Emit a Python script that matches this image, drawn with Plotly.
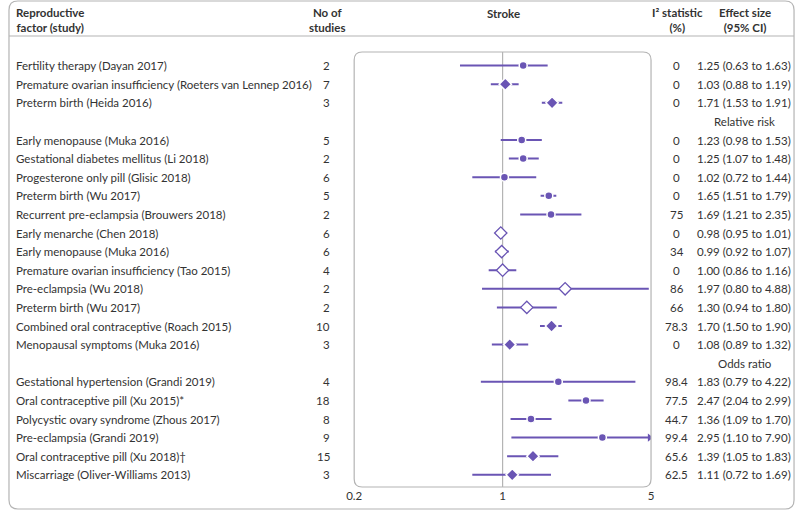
import plotly.graph_objects as go

W, H = 800, 512

# rows: None entries are the group label rows
labels = [None,
          "Fertility therapy (Dayan 2017)",
          "Premature ovarian insufficiency (Roeters van Lennep 2016)",
          "Preterm birth (Heida 2016)",
          None,
          "Early menopause (Muka 2016)",
          "Gestational diabetes mellitus (Li 2018)",
          "Progesterone only pill (Glisic 2018)",
          "Preterm birth (Wu 2017)",
          "Recurrent pre-eclampsia (Brouwers 2018)",
          "Early menarche (Chen 2018)",
          "Early menopause (Muka 2016)",
          "Premature ovarian insufficiency (Tao 2015)",
          "Pre-eclampsia (Wu 2018)",
          "Preterm birth (Wu 2017)",
          "Combined oral contraceptive (Roach 2015)",
          "Menopausal symptoms (Muka 2016)",
          None,
          "Gestational hypertension (Grandi 2019)",
          "Oral contraceptive pill (Xu 2015)*",
          "Polycystic ovary syndrome (Zhous 2017)",
          "Pre-eclampsia (Grandi 2019)",
          "Oral contraceptive pill (Xu 2018)†",
          "Miscarriage (Oliver-Williams 2013)"]
group_names = ["Hazard ratio", "Relative risk", "Odds ratio"]
n_studies = [None, 2, 7, 3, None, 5, 2, 6, 5, 2, 6, 6, 4, 2, 2, 10, 3, None, 4, 18, 8, 9, 15, 3]
i2 = [None, "0", "0", "0", None, "0", "0", "0", "0", "75", "0", "34", "0", "86", "66", "78.3", "0",
      None, "98.4", "77.5", "44.7", "99.4", "65.6", "62.5"]
est = [None, 1.25, 1.03, 1.71, None, 1.23, 1.25, 1.02, 1.65, 1.69, 0.98, 0.99, 1.00, 1.97, 1.30, 1.70, 1.08,
       None, 1.83, 2.47, 1.36, 2.95, 1.39, 1.11]
lo = [None, 0.63, 0.88, 1.53, None, 0.98, 1.07, 0.72, 1.51, 1.21, 0.95, 0.92, 0.86, 0.80, 0.94, 1.50, 0.89,
      None, 0.79, 2.04, 1.09, 1.10, 1.05, 0.72]
hi = [None, 1.63, 1.19, 1.91, None, 1.53, 1.48, 1.44, 1.79, 2.35, 1.01, 1.07, 1.16, 4.88, 1.80, 1.90, 1.32,
      None, 4.22, 2.99, 1.70, 7.90, 1.83, 1.69]
# f = filled circle, d = filled diamond, o = open diamond
kind = [None, "f", "d", "d", None, "f", "f", "f", "f", "f", "o", "o", "o", "o", "o", "d", "d",
        None, "f", "f", "f", "f", "d", "d"]

PURPLE = "#6a55b4"
TXT = "#333333"
GREY = "#b4b4b4"
FONT = "Lato"
FS = 11.5
XMAX = 5


def px(x):
    return x / W


def py(y):
    return 1 - y / H


ROW0, PITCH = 47, 18.6
top_px, bot_px = 52, 487
y_top = (top_px - ROW0) / PITCH
y_bot = (bot_px - ROW0) / PITCH

fig = go.Figure()

# confidence interval lines
lx, ly = [], []
for i, (a, b) in enumerate(zip(lo, hi)):
    if a is None:
        continue
    lx += [a, min(b, XMAX), None]
    ly += [i, i, None]
fig.add_trace(go.Scatter(x=lx, y=ly, mode="lines", line=dict(color=PURPLE, width=2),
                         hoverinfo="skip", showlegend=False))

# arrows for intervals past the axis
ax = [XMAX * 0.985 for b in hi if b is not None and b > XMAX]
ay = [i for i, b in enumerate(hi) if b is not None and b > XMAX]
fig.add_trace(go.Scatter(x=ax, y=ay, mode="markers",
                         marker=dict(symbol="triangle-right", size=7, color=PURPLE),
                         hoverinfo="skip", showlegend=False))

styles = {
    "f": dict(symbol="circle", size=8, color=PURPLE, line=dict(color="white", width=1.5)),
    "d": dict(symbol="diamond", size=9.5, color=PURPLE, line=dict(color="white", width=1.5)),
    "o": dict(symbol="diamond", size=9.5, color="white", line=dict(color=PURPLE, width=1.3)),
}
for k, st in styles.items():
    idx = [i for i, kk in enumerate(kind) if kk == k]
    fig.add_trace(go.Scatter(x=[est[i] for i in idx], y=idx, mode="markers", marker=st,
                             text=[labels[i] for i in idx], hoverinfo="text+x", showlegend=False))

ann = []


def txt(x, y, s, anchor="left", bold=False, yref="paper"):
    ann.append(dict(x=x, y=y, xref="paper", yref=yref, text=f"<b>{s}</b>" if bold else s,
                    showarrow=False, xanchor=anchor, yanchor="middle",
                    font=dict(family=FONT, size=FS, color=TXT)))


# header
txt(px(6), py(20), "Reproductive<br>factor (study)", bold=True)
txt(px(323), py(20), "No of<br>studies", "center", bold=True)
txt(px(502), py(13), "Stroke", "center", bold=True)
txt(px(679), py(20), "I² statistic<br>(%)", "center", bold=True)
txt(px(747), py(20), "Effect size<br>(95% CI)", "center", bold=True)

g = 0
for i, lab in enumerate(labels):
    if lab is None:
        txt(px(747), i, group_names[g], "center", yref="y")
        g += 1
        continue
    txt(px(6), i, lab, yref="y")
    txt(px(329), i, str(n_studies[i]), "right", yref="y")
    txt(px(678), i, i2[i], "center", yref="y")
    txt(px(746), i, f"{est[i]:.2f} ({lo[i]:.2f} to {hi[i]:.2f})", "center", yref="y")


def rrect(x0, y0, x1, y1, r):
    # rounded rectangle path in pixel coords -> paper coords
    def p(x, y):
        return f"{px(x):.5f},{py(y):.5f}"
    return (f"M{p(x0 + r, y0)} L{p(x1 - r, y0)} Q{p(x1, y0)} {p(x1, y0 + r)} "
            f"L{p(x1, y1 - r)} Q{p(x1, y1)} {p(x1 - r, y1)} L{p(x0 + r, y1)} "
            f"Q{p(x0, y1)} {p(x0, y1 - r)} L{p(x0, y0 + r)} Q{p(x0, y0)} {p(x0 + r, y0)} Z")


shapes = [
    dict(type="path", path=rrect(1, 1, 797, 509, 9), xref="paper", yref="paper",
         line=dict(color=GREY, width=1.2)),
    dict(type="line", x0=px(1), x1=px(797), y0=py(36), y1=py(36), xref="paper", yref="paper",
         line=dict(color=GREY, width=1.2)),
    dict(type="path", path=rrect(351, top_px, 652, bot_px, 8), xref="paper", yref="paper",
         line=dict(color=GREY, width=1.2)),
    dict(type="line", x0=1, x1=1, y0=py(top_px), y1=py(bot_px), xref="x", yref="paper",
         line=dict(color=GREY, width=1.2), layer="below"),
]

fig.update_layout(
    width=W, height=H,
    margin=dict(l=0, r=0, t=0, b=0),
    paper_bgcolor="white", plot_bgcolor="white",
    font=dict(family=FONT, size=FS, color=TXT),
    xaxis=dict(type="log", range=[-0.69897, 0.69897], domain=[px(351), px(652)],
               tickvals=[0.2, 1, 5], ticktext=["0.2", "1", "5"], showgrid=False,
               zeroline=False, showline=False, ticks="", tickfont=dict(size=FS, color=TXT)),
    yaxis=dict(range=[y_bot, y_top], domain=[py(bot_px), py(top_px)], visible=False),
    annotations=ann, shapes=shapes,
)

fig.write_html("out.html", config={"displayModeBar": False},
               post_script="document.body.style.margin='0';document.body.style.overflow='hidden';")
